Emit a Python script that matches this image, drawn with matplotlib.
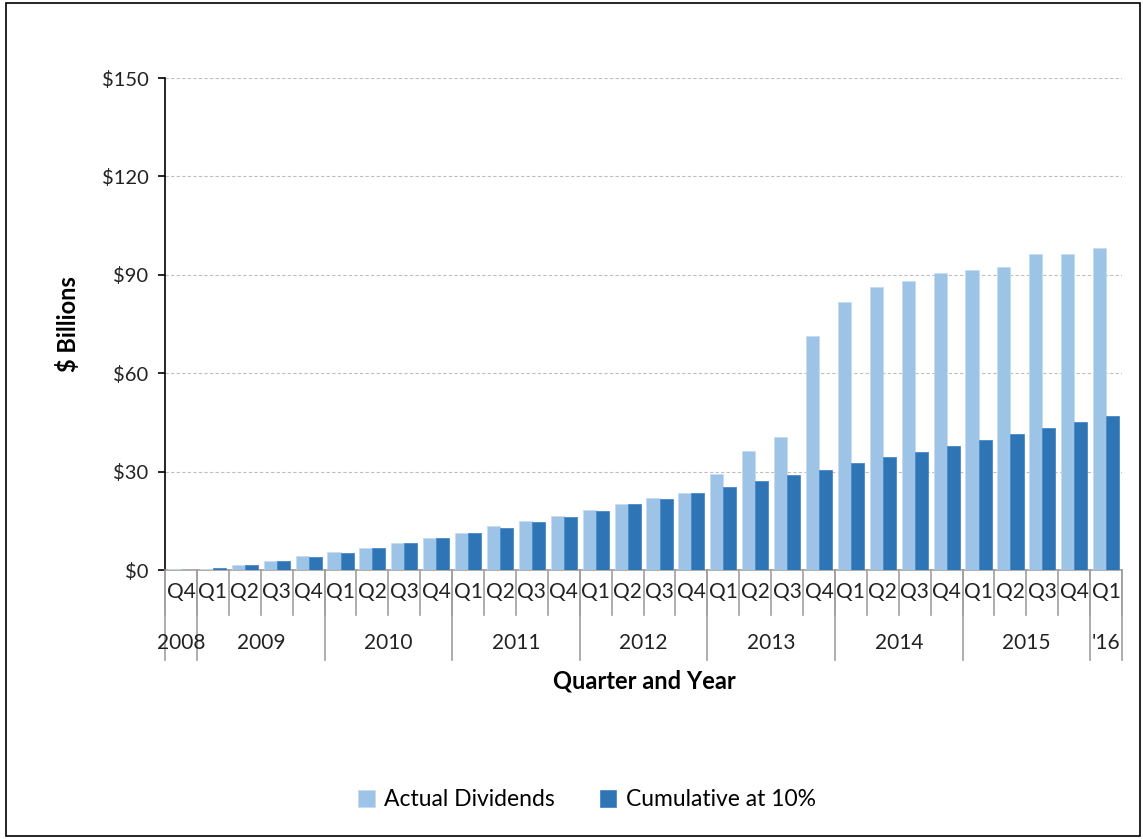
import numpy as np
import matplotlib.pyplot as plt
from matplotlib.patches import Rectangle

# data ($ billions)
quarters = ['Q4',
            'Q1', 'Q2', 'Q3', 'Q4',
            'Q1', 'Q2', 'Q3', 'Q4',
            'Q1', 'Q2', 'Q3', 'Q4',
            'Q1', 'Q2', 'Q3', 'Q4',
            'Q1', 'Q2', 'Q3', 'Q4',
            'Q1', 'Q2', 'Q3', 'Q4',
            'Q1', 'Q2', 'Q3', 'Q4',
            'Q1']
years = ['2008', '2009', '2010', '2011', '2012', '2013', '2014', '2015', "'16"]
yearCounts = [1, 4, 4, 4, 4, 4, 4, 4, 1]

actualDividends = [0.4, 0.4, 1.5, 2.75, 4.3, 5.5, 6.6, 8.2, 9.8,
                   11.4, 13.3, 14.8, 16.4, 18.4, 20.0, 21.9, 23.5,
                   29.3, 36.4, 40.7, 71.2, 81.8, 86.2, 88.0, 90.7,
                   91.6, 92.4, 96.3, 96.3, 98.2]
cumulative10 = [0.0, 0.5, 1.6, 2.75, 3.9, 5.1, 6.6, 8.2, 9.8,
                11.4, 12.9, 14.5, 16.1, 18.0, 20.0, 21.6, 23.4,
                25.4, 27.0, 28.9, 30.5, 32.5, 34.4, 36.0, 37.9,
                39.5, 41.5, 43.4, 45.0, 46.9]

plt.rcParams['font.family'] = ['Lato', 'DejaVu Sans']

fig = plt.figure(figsize=(11.43, 8.39), dpi=100)
ax = fig.add_axes([0.1444, 0.3206, 0.8373, 0.5864])

x = np.arange(len(quarters))
w = 0.41
ax.bar(x - w/2, actualDividends, w, color='#9DC3E6', edgecolor='#C5DCF0',
       linewidth=0.6, label='Actual Dividends', zorder=3)
ax.bar(x + w/2, cumulative10, w, color='#2E75B6', edgecolor='#4A89C8',
       linewidth=0.6, label='Cumulative at 10%', zorder=3)

ax.set_xlim(-0.5, len(quarters) - 0.5)
ax.set_ylim(0, 150)
ax.set_yticks(np.arange(0, 151, 30))
ax.set_yticklabels(['$%d' % v for v in np.arange(0, 151, 30)], fontsize=14.5,
                   color='#222222')
ax.tick_params(axis='y', length=5, width=1.2, pad=7, color='black')
ax.set_xticks([])

# gridlines
for v in range(30, 151, 30):
    ax.axhline(v, color='#BFBFBF', lw=0.8, ls=(0, (3, 2)), zorder=1)

for s in ['top', 'right']:
    ax.spines[s].set_visible(False)
ax.spines['left'].set_color('black')
ax.spines['left'].set_linewidth(1.2)
ax.spines['bottom'].set_color('#A0A0A0')
ax.spines['bottom'].set_linewidth(1.2)

# multi level category axis
tr = ax.get_xaxis_transform()
for i, q in enumerate(quarters):
    ax.text(i, -0.0447, q, transform=tr, ha='center', va='center',
            fontsize=15, color='#222222')
for b in np.arange(-0.5, len(quarters), 1.0):
    ax.plot([b, b], [0, -0.0915], transform=tr, color='#A0A0A0', lw=1.2,
            clip_on=False)

start = -0.5
for yr, n in zip(years, yearCounts):
    ax.text(start + n/2, -0.148, yr, transform=tr, ha='center', va='center',
            fontsize=15, color='#222222')
    ax.plot([start, start], [0, -0.183], transform=tr, color='#A0A0A0',
            lw=1.2, clip_on=False)
    start += n
ax.plot([start, start], [0, -0.183], transform=tr, color='#A0A0A0', lw=1.2,
        clip_on=False)

# axis titles
fig.text(68/1143, 1 - 324/839, '$ Billions', rotation=90, ha='center',
         va='center', fontsize=17, fontweight='bold', color='black')
fig.text(644/1143, 1 - 681/839, 'Quarter and Year', ha='center', va='center',
         fontsize=17, fontweight='bold', color='black')

fig.legend(loc='center', bbox_to_anchor=(587/1143, 1 - 800/839), ncol=2,
           frameon=False, fontsize=16.5, handlelength=0.7, handleheight=0.7,
           handletextpad=0.4, columnspacing=2.0)

# outer border
fig.patches.append(Rectangle((0.005, 0.003), 0.992, 0.993, fill=False,
                             edgecolor='black', lw=1.2,
                             transform=fig.transFigure, figure=fig))

plt.savefig('out.png', dpi=100)
